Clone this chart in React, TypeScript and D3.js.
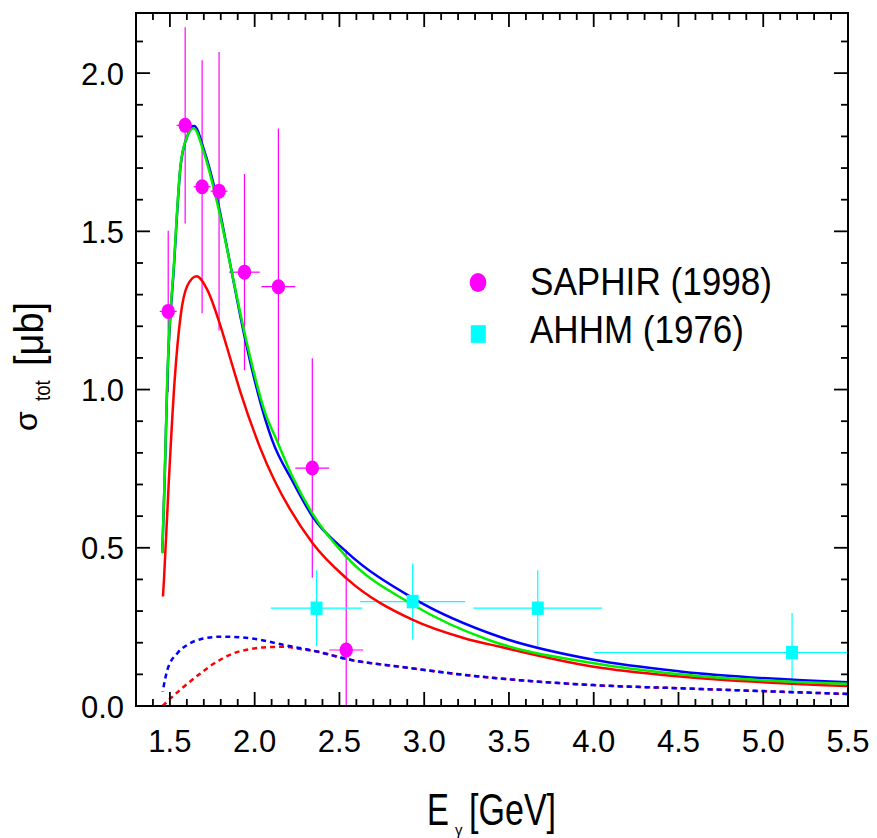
import React from "react";
import * as d3 from "d3";

// ---- data ----
const saphirE = [1.49, 1.59, 1.69, 1.79, 1.94, 2.14, 2.34, 2.54];
const saphirSigma = [1.247, 1.835, 1.641, 1.627, 1.371, 1.325, 0.752, 0.177];
const saphirErr = [0.255, 0.31, 0.4, 0.44, 0.31, 0.5, 0.347, 0.317];
const saphirEErr = [0.05, 0.05, 0.05, 0.05, 0.09, 0.1, 0.1, 0.1];

const ahhmE = [2.365, 2.932, 3.67, 5.17];
const ahhmSigma = [0.309, 0.33, 0.309, 0.169];
const ahhmErr = [0.12, 0.12, 0.12, 0.125];
const ahhmEErr = [0.27, 0.31, 0.38, 1.17];

const blueE = [1.455, 1.469, 1.485, 1.524, 1.563, 1.602, 1.643, 1.7, 1.779, 1.858, 1.936, 2.063, 2.102, 2.229, 2.341, 2.54, 2.933, 3.448, 4.0, 4.51, 5.5];
const blueS = [0.483, 0.715, 1.03, 1.39, 1.707, 1.8, 1.833, 1.759, 1.601, 1.39, 1.179, 0.905, 0.842, 0.705, 0.599, 0.488, 0.341, 0.218, 0.146, 0.109, 0.075];

const greenE = [1.455, 1.469, 1.485, 1.524, 1.563, 1.602, 1.64, 1.7, 1.779, 1.858, 1.936, 2.066, 2.122, 2.229, 2.341, 2.54, 2.933, 3.389, 4.0, 4.51, 5.5];
const greenS = [0.483, 0.72, 1.04, 1.4, 1.71, 1.8, 1.826, 1.75, 1.59, 1.39, 1.19, 0.92, 0.85, 0.718, 0.608, 0.472, 0.32, 0.207, 0.135, 0.1, 0.07];

const redE = [1.459, 1.465, 1.494, 1.528, 1.563, 1.602, 1.657, 1.72, 1.799, 1.858, 1.917, 2.033, 2.341, 2.54, 2.933, 3.232, 3.448, 4.0, 4.51, 5.5];
const redS = [0.346, 0.399, 0.715, 1.03, 1.232, 1.327, 1.358, 1.316, 1.2, 1.095, 0.99, 0.815, 0.515, 0.404, 0.272, 0.215, 0.187, 0.124, 0.093, 0.063];

const blueDashE = [1.457, 1.485, 1.544, 1.602, 1.681, 1.799, 1.975, 2.172, 2.368, 2.564, 2.859, 3.33, 4.0, 4.51, 5.5];
const blueDashS = [0.045, 0.114, 0.167, 0.193, 0.211, 0.219, 0.214, 0.193, 0.172, 0.146, 0.124, 0.093, 0.066, 0.056, 0.038];

const redDashE = [1.457, 1.52, 1.582, 1.68, 1.777, 1.877, 1.975, 2.074, 2.17, 2.27, 2.368, 2.564, 2.859, 3.33, 4.0, 4.51, 5.5];
const redDashS = [0.0, 0.032, 0.061, 0.103, 0.14, 0.167, 0.18, 0.186, 0.187, 0.18, 0.172, 0.146, 0.124, 0.093, 0.066, 0.056, 0.038];

const xMajor = [1.5, 2.0, 2.5, 3.0, 3.5, 4.0, 4.5, 5.0, 5.5];
const yMajor = [0.0, 0.5, 1.0, 1.5, 2.0];
const legendLabels = ["SAPHIR (1998)", "AHHM (1976)"];

// ---- layout ----
const W = 877;
const H = 838;
const L = 136, R = 848, T = 13, B = 706;
const FONT = "'Liberation Sans', Arial, Helvetica, sans-serif";

export default function App() {
  const x = d3.scaleLinear().domain([1.3, 5.5]).range([L, R]);
  const y = d3.scaleLinear().domain([0, 2.19]).range([B, T]);
  const fmt = d3.format(".1f");

  const xMinor = d3.range(13, 56).map((v) => v / 10).filter((v) => !xMajor.some((m) => Math.abs(m - v) < 1e-6));
  const yMinor = d3.range(0, 22).map((v) => v / 10).filter((v) => !yMajor.some((m) => Math.abs(m - v) < 1e-6));

  const line = d3
    .line<[number, number]>()
    .x((d) => x(d[0]))
    .y((d) => y(d[1]))
    .curve(d3.curveMonotoneX);
  const path = (es: number[], ss: number[]) => line(es.map((e, i) => [e, ss[i]] as [number, number])) || "";

  const MJ = 14, MN = 7;

  return (
    <svg width={W} height={H} style={{ position: "absolute", left: 0, top: 0, background: "#fff" }} fontFamily={FONT}>
      <defs>
        <clipPath id="plot">
          <rect x={L} y={T} width={R - L} height={B - T} />
        </clipPath>
      </defs>
      <rect x={0} y={0} width={W} height={H} fill="#fff" />

      <g clipPath="url(#plot)">
        {saphirE.map((e, i) => (
          <g key={"se" + i} stroke="#ff00ff" strokeWidth={1.2}>
            <line x1={x(e)} x2={x(e)} y1={y(saphirSigma[i] - saphirErr[i])} y2={y(saphirSigma[i] + saphirErr[i])} />
            <line x1={x(e - saphirEErr[i])} x2={x(e + saphirEErr[i])} y1={y(saphirSigma[i])} y2={y(saphirSigma[i])} />
          </g>
        ))}
        {ahhmE.map((e, i) => (
          <g key={"ae" + i} stroke="#00ffff" strokeWidth={1.2}>
            <line x1={x(e)} x2={x(e)} y1={y(ahhmSigma[i] - ahhmErr[i])} y2={y(ahhmSigma[i] + ahhmErr[i])} />
            <line x1={x(e - ahhmEErr[i])} x2={x(e + ahhmEErr[i])} y1={y(ahhmSigma[i])} y2={y(ahhmSigma[i])} />
          </g>
        ))}

        <path d={path(redDashE, redDashS)} fill="none" stroke="#ff0000" strokeWidth={2.5} strokeDasharray="5 4" />
        <path d={path(blueDashE, blueDashS)} fill="none" stroke="#0000ff" strokeWidth={2.5} strokeDasharray="5 4" strokeDashoffset={4.5} />
        <path d={path(redE, redS)} fill="none" stroke="#ff0000" strokeWidth={2.5} />
        <path d={path(blueE, blueS)} fill="none" stroke="#0000ff" strokeWidth={2.5} />
        <path d={path(greenE, greenS)} fill="none" stroke="#00ee00" strokeWidth={2.5} />

        {saphirE.map((e, i) => (
          <ellipse key={"sm" + i} cx={x(e)} cy={y(saphirSigma[i])} rx={6.7} ry={7.5} fill="#ff00ff" />
        ))}
        {ahhmE.map((e, i) => (
          <rect key={"am" + i} x={x(e) - 6} y={y(ahhmSigma[i]) - 6.7} width={12} height={13.4} fill="#00ffff" />
        ))}
      </g>

      <rect x={L} y={T} width={R - L} height={B - T} fill="none" stroke="#000" strokeWidth={2} />

      <g stroke="#000" strokeWidth={1.8}>
        {xMajor.map((v) => (
          <g key={"xM" + v}>
            <line x1={x(v)} x2={x(v)} y1={B} y2={B - MJ} />
            <line x1={x(v)} x2={x(v)} y1={T} y2={T + MJ} />
          </g>
        ))}
        {xMinor.map((v) => (
          <g key={"xm" + v}>
            <line x1={x(v)} x2={x(v)} y1={B} y2={B - MN} />
            <line x1={x(v)} x2={x(v)} y1={T} y2={T + MN} />
          </g>
        ))}
        {yMajor.map((v) => (
          <g key={"yM" + v}>
            <line x1={L} x2={L + MJ} y1={y(v)} y2={y(v)} />
            <line x1={R} x2={R - MJ} y1={y(v)} y2={y(v)} />
          </g>
        ))}
        {yMinor.map((v) => (
          <g key={"ym" + v}>
            <line x1={L} x2={L + MN} y1={y(v)} y2={y(v)} />
            <line x1={R} x2={R - MN} y1={y(v)} y2={y(v)} />
          </g>
        ))}
      </g>

      <g fontSize={31} fill="#000">
        {xMajor.map((v) => (
          <text key={"xl" + v} x={x(v)} y={752} textAnchor="middle">{fmt(v)}</text>
        ))}
        {yMajor.map((v) => (
          <text key={"yl" + v} x={124} y={y(v) + 11.5} textAnchor="end">{fmt(v)}</text>
        ))}
      </g>

      {/* x axis title */}
      <g fill="#000">
        <text transform="translate(427,825) scale(0.73,1)" fontSize={45}>E</text>
        <text x={455} y={835} fontSize={15}>γ</text>
        <text transform="translate(469,825) scale(0.757,1)" fontSize={45}>[GeV]</text>
      </g>

      {/* y axis title */}
      <g fill="#000">
        <text transform="translate(37,431) rotate(-90)" fontSize={32}>σ</text>
        <text transform="translate(50,401) rotate(-90) scale(0.85,1)" fontSize={22}>tot</text>
        <text transform="translate(43,366) rotate(-90) scale(0.95,1)" fontSize={40}>[μb]</text>
      </g>

      {/* legend */}
      <ellipse cx={478} cy={282.5} rx={8.3} ry={9.5} fill="#ff00ff" />
      <rect x={478.3 - 7.5} y={334 - 8.8} width={15} height={17.6} fill="#00ffff" />
      <text x={530} y={295} fontSize={38} textLength={242} lengthAdjust="spacingAndGlyphs">{legendLabels[0]}</text>
      <text x={530} y={343} fontSize={38} textLength={214} lengthAdjust="spacingAndGlyphs">{legendLabels[1]}</text>
    </svg>
  );
}
